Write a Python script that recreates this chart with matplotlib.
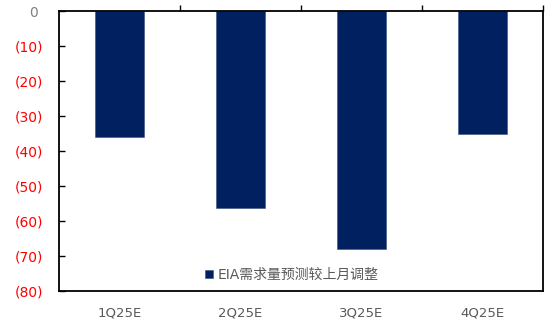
import matplotlib.pyplot as plt
import numpy as np

# data
quarters = ['1Q25E', '2Q25E', '3Q25E', '4Q25E']
revision = [-36, -56.3, -68, -35]
legend_label = 'EIA需求量预测较上月调整'
yticks = [0, -10, -20, -30, -40, -50, -60, -70, -80]

plt.rcParams['font.family'] = ['DejaVu Sans', 'Noto Sans CJK SC']

fig = plt.figure(figsize=(5.5, 3.26), dpi=100)
ax = fig.add_axes([0.107, 0.107, 0.88, 0.859])

x = np.arange(len(quarters))
ax.bar(x, revision, width=0.4, color='#002060', edgecolor='#3a5080',
       linewidth=0.4, label=legend_label, zorder=2)

ax.set_xlim(-0.5, len(quarters) - 0.5)
ax.set_ylim(-80, 0)

# y axis: accounting style labels, negatives in red
ax.set_yticks(yticks)
ax.set_yticklabels(['0\u2008' if v == 0 else '(%d)' % abs(v) for v in yticks],
                   fontsize=10)
for lbl, v in zip(ax.get_yticklabels(), yticks):
    lbl.set_color('#7f7f7f' if v == 0 else '#ff0000')
ax.tick_params(axis='y', direction='in', length=4, width=1, pad=11)

# categories at the bottom, separators at the zero line on top
ax.set_xticks(x)
ax.set_xticklabels(quarters, fontsize=9.5, color='#595959')
ax.set_xticks(np.arange(len(quarters)) + 0.5, minor=True)
ax.tick_params(axis='x', which='major', length=0, pad=11)
ax.tick_params(axis='x', which='minor', top=True, bottom=False,
               direction='out', length=4, width=1)

for s in ax.spines.values():
    s.set_linewidth(1.3)
    s.set_color('black')

leg = ax.legend(loc='center', bbox_to_anchor=(0.53, 0.157),
                bbox_transform=fig.transFigure, frameon=False,
                fontsize=10, handlelength=0.6, handleheight=0.6,
                handletextpad=0.3)
for t in leg.get_texts():
    t.set_color('#595959')

fig.savefig('out.png', dpi=100)
